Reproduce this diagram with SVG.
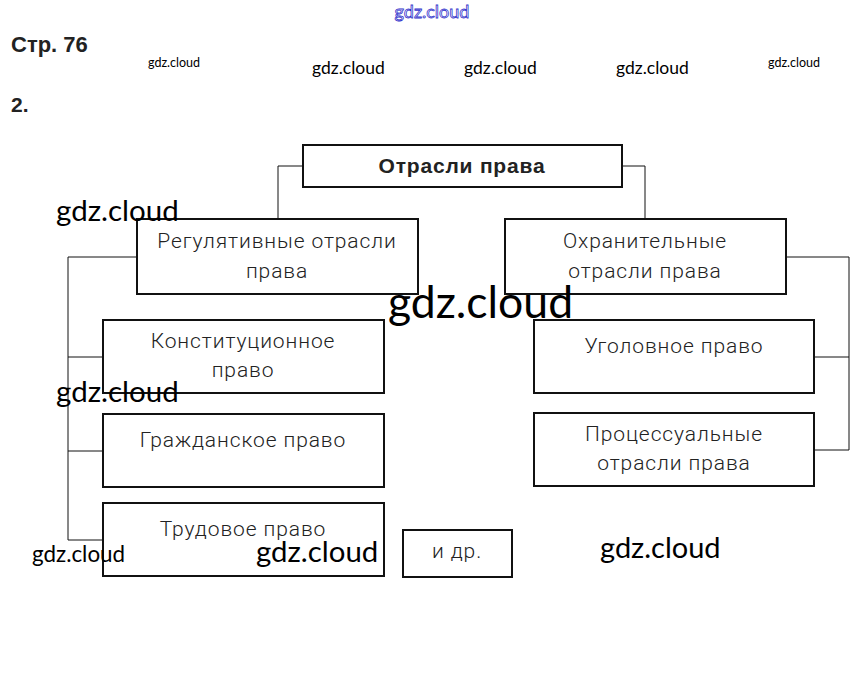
<svg xmlns="http://www.w3.org/2000/svg" width="862" height="675" viewBox="0 0 862 675">
<style>
.box{fill:#fff;stroke:#111;stroke-width:2}
.t{font-family:Roboto,"Liberation Sans",sans-serif;font-weight:300;font-size:21px;letter-spacing:0.9px;fill:#222;text-anchor:middle}
.b{font-family:"Liberation Sans",Arial,sans-serif;font-weight:bold;fill:#222}
.wm{font-family:Lato,"Open Sans",sans-serif;fill:#000}
.con{fill:none;stroke:#111;stroke-width:1}
</style>
<rect width="862" height="675" fill="#fff"/>
<g id="connectors">
<path class="con" d="M303,166 H278 V219"/>
<path class="con" d="M622,166 H645 V219"/>
<path class="con" d="M137,257 H68 V540 H103 M68,357 H103 M68,451 H103"/>
<path class="con" d="M786,257 H849 V450 H814 M849,357 H814"/>
</g>
<g id="root"><rect class="box" x="303" y="145" width="319" height="42"/><text class="b" x="462" y="173" font-size="21" letter-spacing="0.8" text-anchor="middle">Отрасли права</text></g>
<g id="reg"><rect class="box" x="137" y="219" width="281" height="75"/><text class="t" x="277" y="248">Регулятивные отрасли</text><text class="t" x="277" y="278">права</text></g>
<g id="okhr"><rect class="box" x="505" y="219" width="281" height="75"/><text class="t" x="645" y="248">Охранительные</text><text class="t" x="645" y="278">отрасли права</text></g>
<g id="konst"><rect class="box" x="103" y="320" width="281" height="73"/><text class="t" x="243" y="348">Конституционное</text><text class="t" x="243" y="377">право</text></g>
<g id="grazh"><rect class="box" x="103" y="414" width="281" height="73"/><text class="t" x="243" y="447">Гражданское право</text></g>
<g id="trud"><rect class="box" x="103" y="503" width="281" height="73"/><text class="t" x="243" y="536">Трудовое право</text></g>
<g id="idr"><rect class="box" x="403" y="530" width="109" height="47"/><text class="t" x="457" y="558">и др.</text></g>
<g id="ugol"><rect class="box" x="534" y="320" width="280" height="73"/><text class="t" x="674" y="353">Уголовное право</text></g>
<g id="proc"><rect class="box" x="534" y="413" width="280" height="73"/><text class="t" x="674" y="441">Процессуальные</text><text class="t" x="674" y="470">отрасли права</text></g>
<text class="b" x="11" y="52" font-size="22">Стр. 76</text>
<text class="b" x="11" y="112" font-size="21">2.</text>
<text x="432" y="18" font-family="Lato,sans-serif" font-size="18" text-anchor="middle" fill="#fff" stroke="#3333cc" stroke-width="0.8">gdz.cloud</text>
<text class="wm" x="148" y="67" font-size="12.5">gdz.cloud</text>
<text class="wm" x="312" y="74" font-size="17.5">gdz.cloud</text>
<text class="wm" x="464" y="74" font-size="17.5">gdz.cloud</text>
<text class="wm" x="616" y="74" font-size="17.5">gdz.cloud</text>
<text class="wm" x="768" y="67" font-size="12.5">gdz.cloud</text>
<text class="wm" x="56" y="221" font-size="29.5">gdz.cloud</text>
<text class="wm" x="388" y="318" font-size="44.5">gdz.cloud</text>
<text class="wm" x="56" y="402" font-size="29.5">gdz.cloud</text>
<text class="wm" x="32" y="562" font-size="22.4">gdz.cloud</text>
<text class="wm" x="256" y="562" font-size="29.4">gdz.cloud</text>
<text class="wm" x="600" y="558" font-size="29">gdz.cloud</text>
</svg>
